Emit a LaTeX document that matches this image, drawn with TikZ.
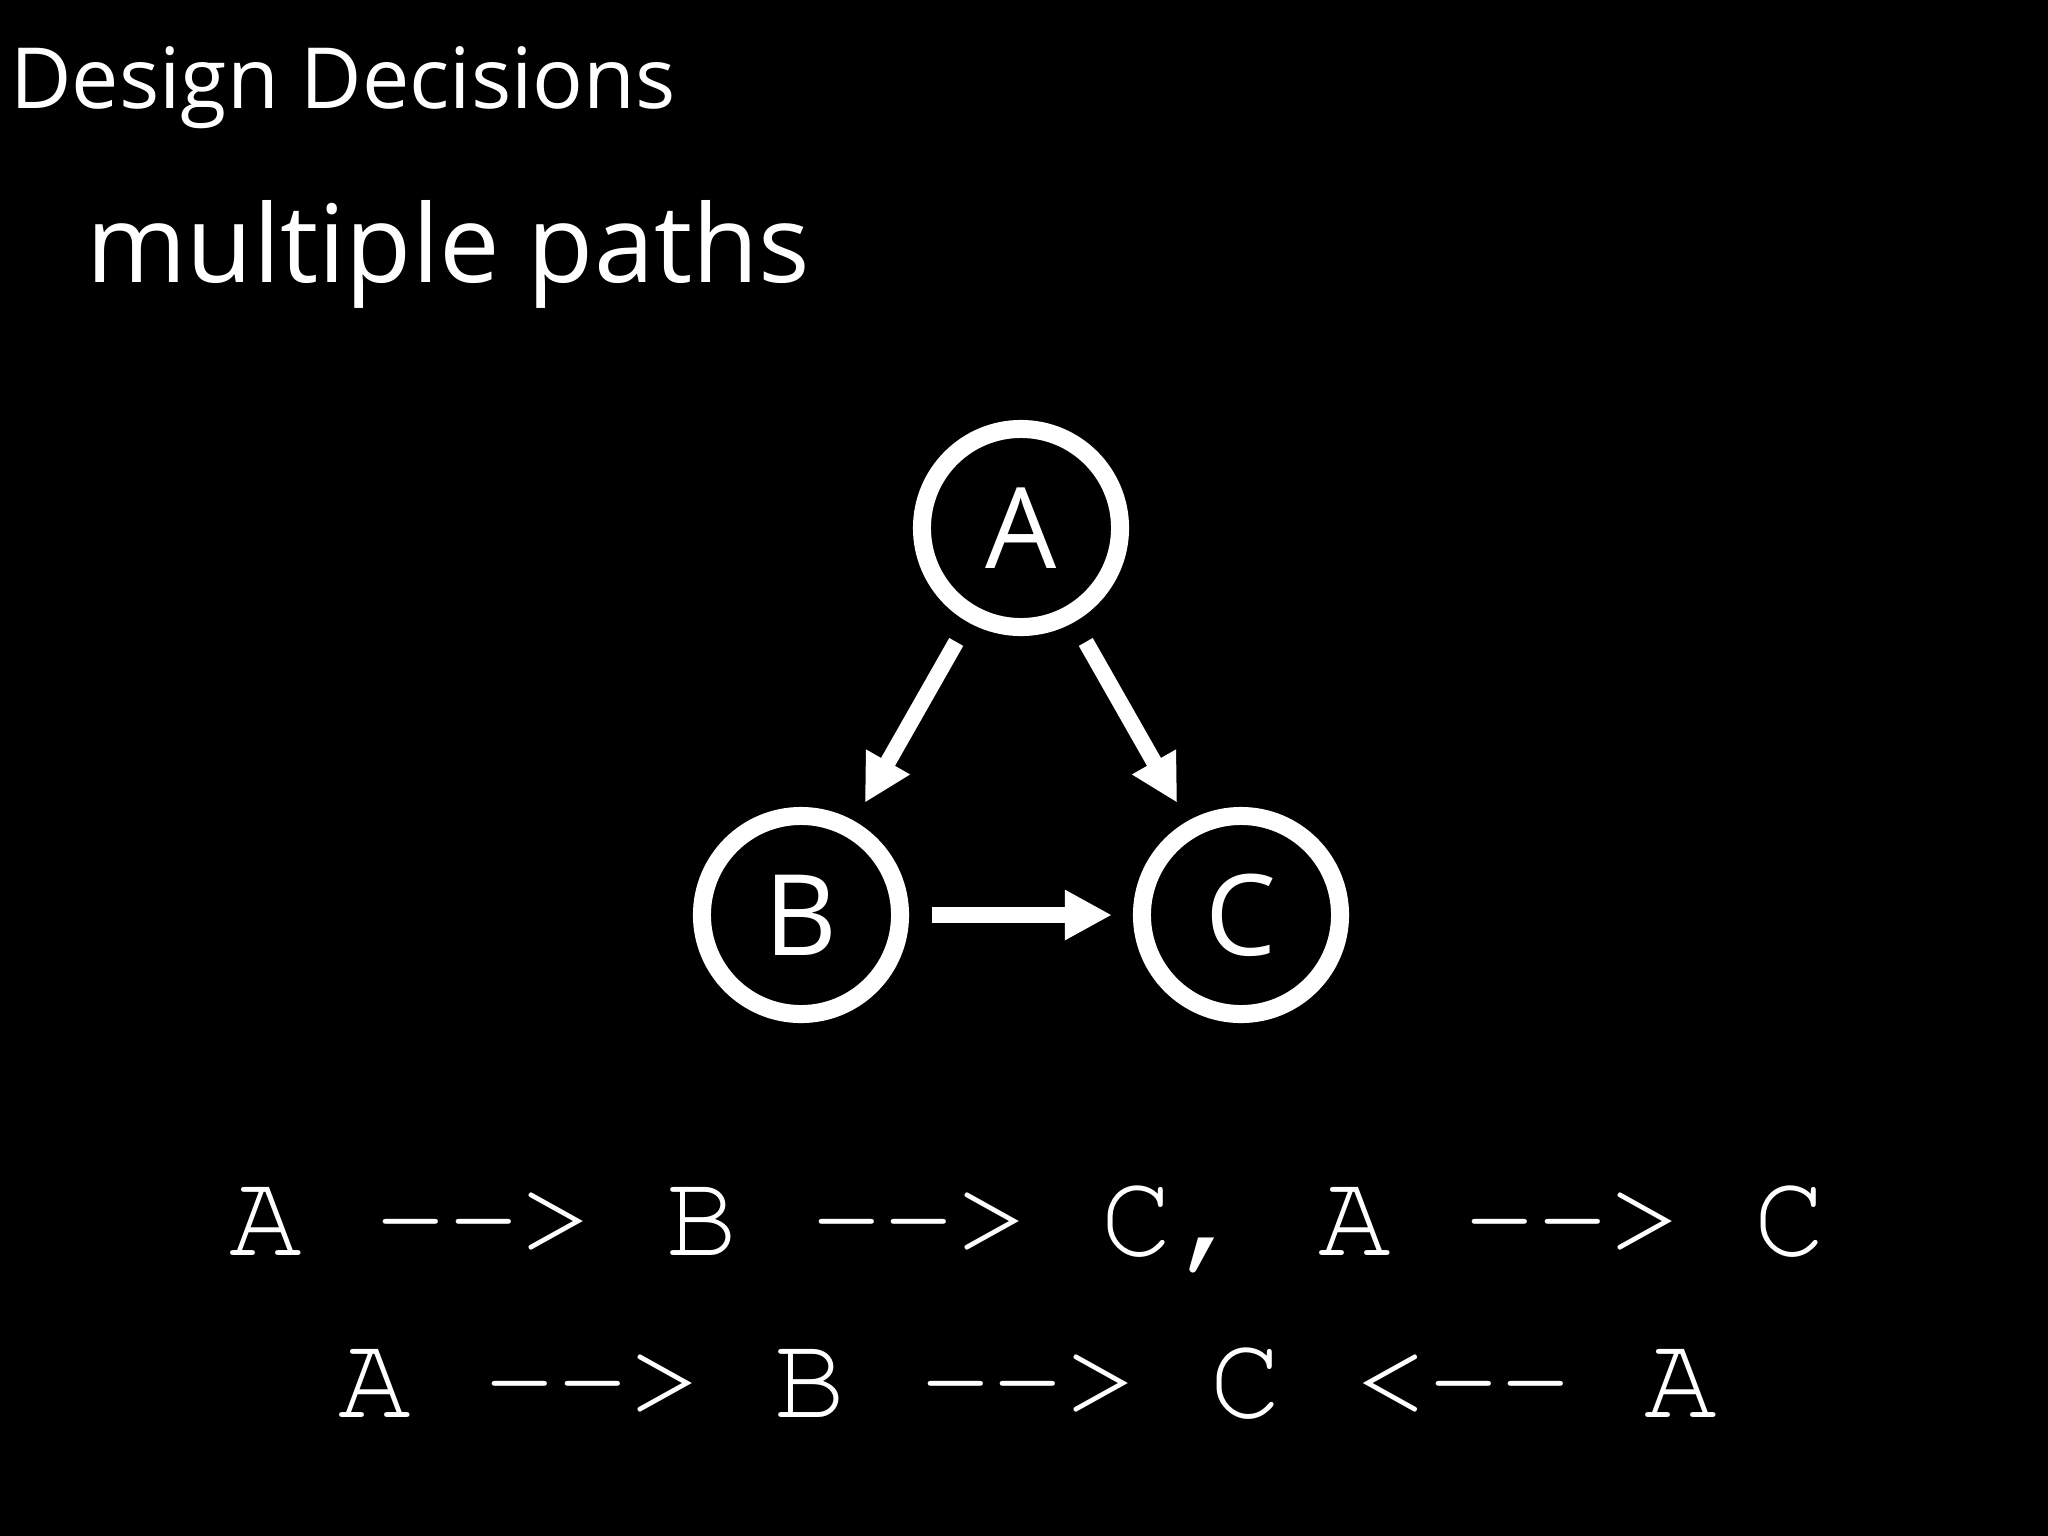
\documentclass[tikz,border=0pt]{standalone}
\usepackage[T1]{fontenc}
\usepackage{fontspec}
\setmainfont{Open Sans}
\usetikzlibrary{arrows.meta}
\newcommand\codefont{\fontencoding{T1}\fontfamily{pcr}\selectfont}
\begin{document}
\begin{tikzpicture}[x=0.01cm,y=-0.01cm,>={Triangle[length=0.47cm,width=0.47cm]},
    state/.style={circle,draw=white,line width=0.18cm,minimum size=1.98cm,inner sep=0pt,
        text=white,font=\fontsize{32pt}{36pt}\selectfont},
    edge/.style={->,white,line width=0.16cm,shorten <=0.23cm,shorten >=0.21cm},
    code/.style={white,anchor=base,font=\fontsize{34.4pt}{40pt}\codefont}]
\useasboundingbox(0,0)rectangle(2048,1536);
\fill[black](0,0)rectangle(2048,1536);
\node[white,anchor=base west,font=\fontsize{24pt}{29pt}\selectfont] (title) at (-2,108) {Design Decisions};
\node[white,anchor=base west,font=\fontsize{30.7pt}{36pt}\selectfont] (sub) at (74,282) {multiple paths};
% graph
\node[state] (A) at (1021,528) {A};
\node[state] (B) at (801,915) {B};
\node[state] (C) at (1241,915) {C};
\draw[edge](A)--(B);
\draw[edge](A)--(C);
\draw[edge](B)--(C);
% paths
\node[code] (one) at (1028,1255) {A -{}-> B -{}-> C, A -{}-> C};
\node[code] (two) at (1028,1417) {A -{}-> B -{}-> C <-{}- A};
\end{tikzpicture}
\end{document}
